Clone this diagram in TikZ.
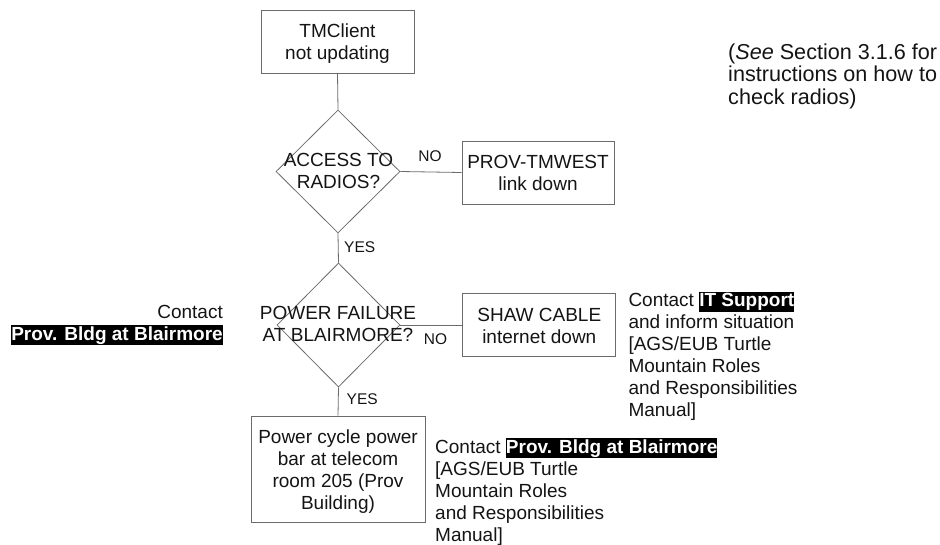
\documentclass[tikz,border=0pt]{standalone}
\usepackage{fontspec}
\setmainfont{Liberation Sans}
\usetikzlibrary{shapes.geometric}

% white bold text on a black band
\newcommand\hlbox[1]{{\setlength{\fboxsep}{0pt}\colorbox{black}{\rule[-5pt]{0pt}{20pt}\textcolor{white}{\bfseries #1}}}}
% centred block of lines, drawn a little lower than its nominal box
\newcommand\cstack[2]{\raisebox{-#1}[\height][\depth]{\begin{tabular}{@{}c@{}}#2\end{tabular}}}
% block of lines hanging from the baseline of its first line
\newcommand\tstack[2]{\begin{tabular}[t]{@{}#1@{}}#2\end{tabular}}

\definecolor{edge}{gray}{0.42}

\begin{document}
\begin{tikzpicture}[x=1pt,y=-1pt,
  every node/.style={inner sep=0pt, text=black!92},
  body/.style={font=\fontsize{19}{22}\selectfont},
  procbox/.style={body, draw=edge, line width=0.8pt, rectangle},
  decision/.style={draw=edge, line width=0.8pt, diamond, inner sep=0pt},
  answer/.style={font=\fontsize{15.5}{18}\selectfont},
  note/.style={body, anchor=base west},
  link/.style={draw=edge, line width=0.8pt}]

  \useasboundingbox (0,0) rectangle (940,544);

  % flow chart boxes
  \node[procbox, minimum width=153pt, minimum height=63pt] (tm) at (337.5,41.5)
    {\cstack{3pt}{TMClient\\not updating}};
  \node[decision, minimum width=124pt, minimum height=123pt] (d1) at (338,171.5) {};
  \node[body] (d1t) at (338.5,171.5) {\cstack{1.5pt}{ACCESS TO\\RADIOS?}};
  \node[procbox, minimum width=152pt, minimum height=63pt] (prov) at (538,172.5)
    {\cstack{3pt}{PROV-TMWEST\\link down}};
  \node[decision, minimum width=123pt, minimum height=124pt] (d2) at (338.5,325) {};
  \node[body] (d2t) at (338,325) {\cstack{1.5pt}{POWER FAILURE\\AT BLAIRMORE?}};
  \node[procbox, minimum width=153pt, minimum height=63pt] (shaw) at (539.3,325)
    {\cstack{3pt}{SHAW CABLE\\internet down}};
  \node[procbox, minimum width=174pt, minimum height=106pt] (power) at (338,469)
    {\cstack{3pt}{Power cycle power\\bar at telecom\\room 205 (Prov\\Building)}};

  % connectors
  \draw[link] (tm.south) -- (d1.north);
  \draw[link] (d1.east) -- (prov.west);
  \draw[link] (d1.south) -- (d2.north);
  \draw[link] (d2.east) -- (shaw.west);
  \draw[link] (d2.south) -- (power.north);

  % branch labels
  \node[answer] (no1) at (430,156) {NO};
  \node[answer, anchor=west] (yes1) at (344,247) {YES};
  \node[answer] (no2) at (435.5,339.5) {NO};
  \node[answer, anchor=west] (yes2) at (346.5,399) {YES};

  % side notes
  \node[body, anchor=base east] (leftnote) at (223,318)
    {\tstack{r}{Contact\\\hlbox{Prov. Bldg at Blairmore}}};
  \node[note] (itnote) at (628.3,306.7)
    {\tstack{l}{Contact \hlbox{IT Support}\\and inform situation\\{}[AGS/EUB Turtle\\Mountain Roles\\and Responsibilities\\Manual]}};
  \node[note] (provnote) at (435,453)
    {\tstack{l}{Contact \hlbox{Prov. Bldg at Blairmore}\\{}[AGS/EUB Turtle\\Mountain Roles\\and Responsibilities\\Manual]}};
  \node[anchor=base west, font=\fontsize{21.6}{22}\selectfont] (seenote) at (728,59.5)
    {\tstack{l}{(\textit{See} Section 3.1.6 for\\instructions on how to\\check radios)}};
\end{tikzpicture}
\end{document}
